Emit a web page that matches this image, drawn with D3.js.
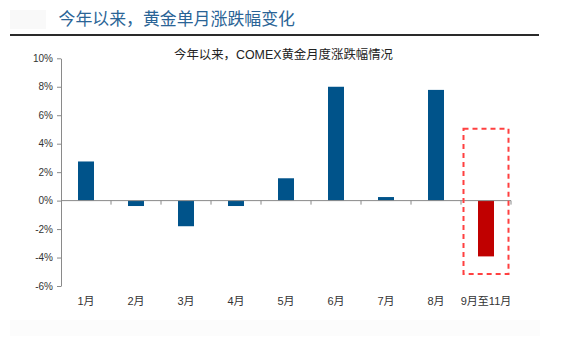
<!DOCTYPE html>
<html><head><meta charset="utf-8">
<script src="https://cdn.jsdelivr.net/npm/d3@7"></script>
<style>
html,body{margin:0;padding:0;background:#fff;}
svg{display:block;font-family:Arial,"Liberation Sans","Noto Sans CJK SC",sans-serif;}
</style></head>
<body>
<svg id="c" width="581" height="343"></svg>
<script>
const categories = ["1月","2月","3月","4月","5月","6月","7月","8月","9月至11月"];
const values = [2.75, -0.38, -1.8, -0.38, 1.57, 8.0, 0.25, 7.78, -3.92];
const yTicks = [10, 8, 6, 4, 2, 0, -2, -4, -6];
const highlightCategory = "9月至11月";
const highlightRange = [5.05, -5.15];
const title = "今年以来，黄金单月涨跌幅变化";
const subtitle = "今年以来，COMEX黄金月度涨跌幅情况";

(function(){
const svg = d3.select("#c");
const pl = 61, pr = 511, pt = 58.3, pb = 286;

// header
svg.append("rect").attr("x",10).attr("y",10).attr("width",36).attr("height",19).attr("fill","#f9f9f9");
svg.append("text").attr("x",58.5).attr("y",25).attr("font-size",16.9).attr("fill","#2a6496")
  .attr("font-family","'Noto Sans CJK SC',sans-serif").text(title);
svg.append("line").attr("x1",10).attr("x2",539).attr("y1",35).attr("y2",35)
  .attr("stroke","#2a2a2a").attr("stroke-width",2);
svg.append("text").attr("x",283.5).attr("y",59).attr("text-anchor","middle").attr("font-size",12.4)
  .attr("fill","#222").text(subtitle);

// faint bottom stripes
svg.append("rect").attr("x",10).attr("y",320).attr("width",530).attr("height",16).attr("fill","#fcfcfc");

const x = d3.scaleBand().domain(categories).range([pl, pr]).paddingInner(0.68).paddingOuter(0.34);
const xb = d3.scaleBand().domain(categories).range([pl, pr]);
const y = d3.scaleLinear().domain([-6, 10]).range([pb, pt]);

// y axis
const yAxis = d3.axisLeft(y).tickValues(yTicks).tickFormat(d => d + "%").tickSize(4).tickSizeOuter(0);
const gy = svg.append("g").attr("transform",`translate(${pl},0)`).call(yAxis);
gy.select(".domain").attr("stroke","#8a8a8a");
gy.selectAll(".tick line").attr("stroke","#8a8a8a");
gy.selectAll(".tick text").attr("font-size",10).attr("fill","#333").attr("x",-8)
  .attr("font-family","Arial,'Liberation Sans',sans-serif");

// bars
svg.append("g").selectAll("rect").data(categories).join("rect")
  .attr("x", d => x(d))
  .attr("width", x.bandwidth())
  .attr("y", (d,i) => y(Math.max(0, values[i])))
  .attr("height", (d,i) => Math.abs(y(values[i]) - y(0)))
  .attr("fill", d => d === highlightCategory ? "#c00000" : "#00538a");

// x axis at zero
const gx = svg.append("g").attr("transform",`translate(0,${y(0)})`);
gx.append("line").attr("x1",pl).attr("x2",pr).attr("stroke","#8a8a8a");
gx.selectAll("line.t").data(categories.slice(1)).join("line").attr("class","t")
  .attr("x1", d => xb(d)).attr("x2", d => xb(d)).attr("y1",0).attr("y2",4).attr("stroke","#8a8a8a");
gx.append("line").attr("x1",pr).attr("x2",pr).attr("y1",0).attr("y2",4).attr("stroke","#8a8a8a");

// category labels
svg.append("g").selectAll("text").data(categories).join("text")
  .attr("x", d => xb(d) + xb.bandwidth()/2)
  .attr("y", 305)
  .attr("text-anchor","middle").attr("font-size",11).attr("fill","#333")
  .text(d => d);

// highlight box
svg.append("rect")
  .attr("x", xb(highlightCategory) + 2.5)
  .attr("width", xb.bandwidth() - 5)
  .attr("y", y(highlightRange[0]))
  .attr("height", y(highlightRange[1]) - y(highlightRange[0]))
  .attr("fill","none").attr("stroke","#ff4040").attr("stroke-width",2).attr("stroke-dasharray","5,4");
})();
</script>
</body></html>
